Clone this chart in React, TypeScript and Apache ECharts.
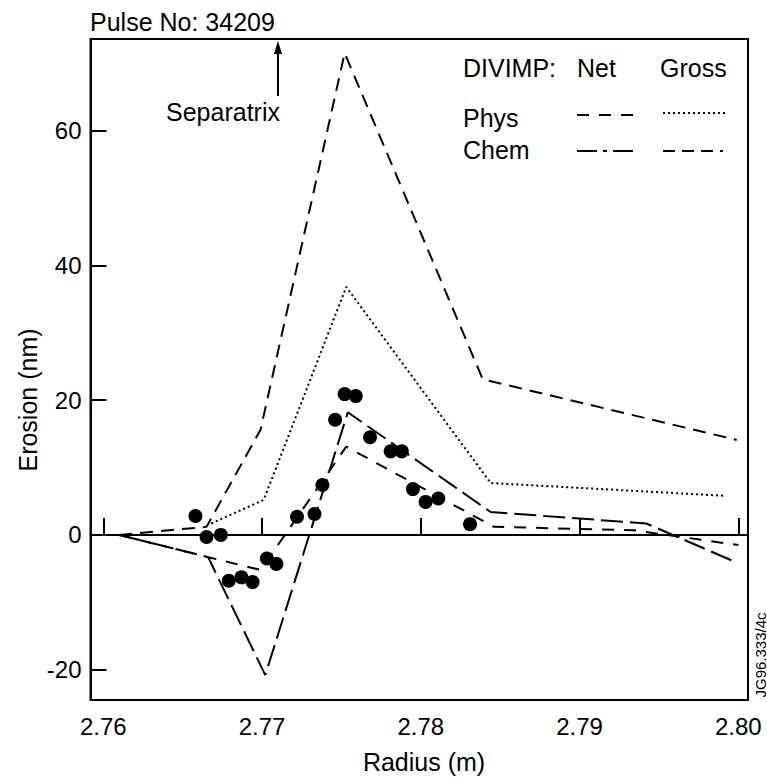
import React, { useEffect, useRef } from "react";
import * as echarts from "echarts";

// Measured data (Radius in m, Erosion in nm)
const SCATTER_R = [2.7658, 2.7665, 2.7674, 2.7679, 2.7687, 2.7694, 2.7703, 2.7709, 2.7722, 2.7733, 2.7738, 2.7746, 2.7752, 2.7759, 2.7768, 2.7781, 2.7788, 2.7795, 2.7803, 2.7811, 2.7831];
const SCATTER_E = [2.8, -0.3, 0.0, -6.8, -6.3, -7.0, -3.5, -4.3, 2.7, 3.1, 7.4, 17.1, 20.9, 20.6, 14.5, 12.4, 12.4, 6.8, 4.9, 5.4, 1.6];

// DIVIMP curves
const PHYS_NET_R = [2.761, 2.7666, 2.7699, 2.7753, 2.7846, 2.7934, 2.8];
const PHYS_NET_E = [0, -3.3, -5.2, 13.1, 1.2, 0.7, -1.5];
const PHYS_GROSS_R = [2.7668, 2.7701, 2.7753, 2.7844, 2.7992];
const PHYS_GROSS_E = [1.7, 5.2, 36.8, 7.7, 5.8];
const CHEM_NET_R = [2.761, 2.7666, 2.7702, 2.7754, 2.7844, 2.7942, 2.7998];
const CHEM_NET_E = [0, -3.3, -20.8, 18.2, 3.4, 1.7, -4.0];
const CHEM_GROSS_R = [2.761, 2.7665, 2.7699, 2.7752, 2.7839, 2.7999];
const CHEM_GROSS_E = [0, 1.2, 15.6, 71.5, 23.1, 14.1];

const X_TICKS = [2.76, 2.77, 2.78, 2.79, 2.8];
const Y_TICKS = [-20, 0, 20, 40, 60];
const X_MIN = 2.75919;
const X_MAX = 2.80061;
const Y_MIN = -24.5;
const Y_MAX = 73.6;
const SEPARATRIX_R = 2.771;

const FONT = "'Liberation Sans', Arial, Helvetica, sans-serif";

const DASH_PHYS_NET = [12, 10];
const DASH_PHYS_GROSS = [2, 3];
const DASH_CHEM_NET = [22, 7];
const DASH_CHEM_GROSS = [13, 8];
const LEGEND_CHEM_NET = [20, 6, 4, 6];
const LEGEND_CHEM_GROSS = [12, 7, 12, 7, 12, 7, 3, 7];

const pairs = (xs: number[], ys: number[]) => xs.map((x, i) => [x, ys[i]]);

export default function App() {
  const ref = useRef<HTMLDivElement>(null);
  useEffect(() => {
    if (!ref.current) return;
    const chart = echarts.init(ref.current, undefined, { renderer: "svg" });
    const lineSeries = (name: string, xs: number[], ys: number[], dash: number[]) => ({
      name,
      type: "line",
      data: pairs(xs, ys),
      showSymbol: false,
      symbol: "none",
      lineStyle: { color: "#000", width: 2, type: dash },
      z: 3,
    });
    chart.setOption({
      animation: false,
      backgroundColor: "#fff",
      grid: {
        left: 90.5,
        top: 39,
        width: 657.5,
        height: 661,
        show: true,
        borderColor: "#000",
        borderWidth: 2,
        backgroundColor: "transparent",
      },
      xAxis: {
        type: "value",
        min: X_MIN,
        max: X_MAX,
        axisLine: { show: true, lineStyle: { color: "#000", width: 2 } },
        axisTick: {
          show: true,
          inside: true,
          length: 17,
          customValues: X_TICKS,
          lineStyle: { color: "#000", width: 2 },
        },
        axisLabel: {
          customValues: X_TICKS,
          formatter: (v: number) => v.toFixed(2),
          color: "#000",
          fontFamily: FONT,
          fontSize: 24,
          margin: 14,
        },
        splitLine: { show: false },
      },
      yAxis: {
        type: "value",
        min: Y_MIN,
        max: Y_MAX,
        axisLine: { show: true, lineStyle: { color: "#000", width: 2 } },
        axisTick: {
          show: true,
          inside: true,
          length: 16,
          customValues: Y_TICKS,
          lineStyle: { color: "#000", width: 2 },
        },
        axisLabel: {
          customValues: Y_TICKS,
          formatter: (v: number) => String(v),
          color: "#000",
          fontFamily: FONT,
          fontSize: 24,
          margin: 9,
        },
        splitLine: { show: false },
      },
      series: [
        lineSeries("Chem Gross", CHEM_GROSS_R, CHEM_GROSS_E, DASH_CHEM_GROSS),
        lineSeries("Phys Gross", PHYS_GROSS_R, PHYS_GROSS_E, DASH_PHYS_GROSS),
        lineSeries("Chem Net", CHEM_NET_R, CHEM_NET_E, DASH_CHEM_NET),
        lineSeries("Phys Net", PHYS_NET_R, PHYS_NET_E, DASH_PHYS_NET),
        {
          name: "Measured",
          type: "scatter",
          data: pairs(SCATTER_R, SCATTER_E),
          symbol: "circle",
          symbolSize: 14,
          itemStyle: { color: "#000", opacity: 1 },
          z: 4,
          markLine: {
            silent: true,
            symbol: "none",
            label: { show: false },
            lineStyle: { color: "#000", type: "solid", width: 2, opacity: 1 },
            data: [{ yAxis: 0 }],
          },
        },
      ],
    });

    const sx = chart.convertToPixel({ xAxisIndex: 0 }, SEPARATRIX_R) as number;
    const txt = (text: string, x: number, y: number, extra: any = {}) => ({
      type: "text",
      x,
      y,
      style: {
        text,
        fill: "#000",
        font: `${extra.size || 25}px ${FONT}`,
        textAlign: extra.align || "left",
        textVerticalAlign: "middle",
      },
      rotation: extra.rotation || 0,
      z: 10,
    });
    const seg = (x1: number, x2: number, y: number, dash: number[]) => ({
      type: "line",
      shape: { x1, y1: y, x2, y2: y },
      style: { stroke: "#000", lineWidth: 2, lineDash: dash },
      z: 10,
    });
    chart.setOption({
      graphic: [
        txt("Pulse No: 34209", 90, 22),
        txt("Separatrix", 223, 112, { align: "center" }),
        {
          type: "line",
          shape: { x1: sx, y1: 96, x2: sx, y2: 50 },
          style: { stroke: "#000", lineWidth: 2 },
          z: 10,
        },
        {
          type: "polygon",
          shape: { points: [[sx - 4, 54], [sx + 4, 54], [sx, 41]] },
          style: { fill: "#000" },
          z: 10,
        },
        txt("Erosion (nm)", 28, 400, { align: "center", rotation: Math.PI / 2 }),
        txt("Radius (m)", 424, 762, { align: "center" }),
        txt("JG96.333/4c", 760, 655, { align: "center", rotation: Math.PI / 2, size: 15 }),
        txt("DIVIMP:", 463, 68),
        txt("Net", 577, 68),
        txt("Gross", 660, 68),
        txt("Phys", 463, 118),
        txt("Chem", 463, 150),
        seg(577, 636, 115, DASH_PHYS_NET),
        seg(663, 727, 113, DASH_PHYS_GROSS),
        seg(577, 636, 151, LEGEND_CHEM_NET),
        seg(663, 727, 151, LEGEND_CHEM_GROSS),
      ],
    });
    return () => chart.dispose();
  }, []);
  return (
    <div
      ref={ref}
      style={{ position: "fixed", left: 0, top: 0, width: 767, height: 780, background: "#fff" }}
    />
  );
}
